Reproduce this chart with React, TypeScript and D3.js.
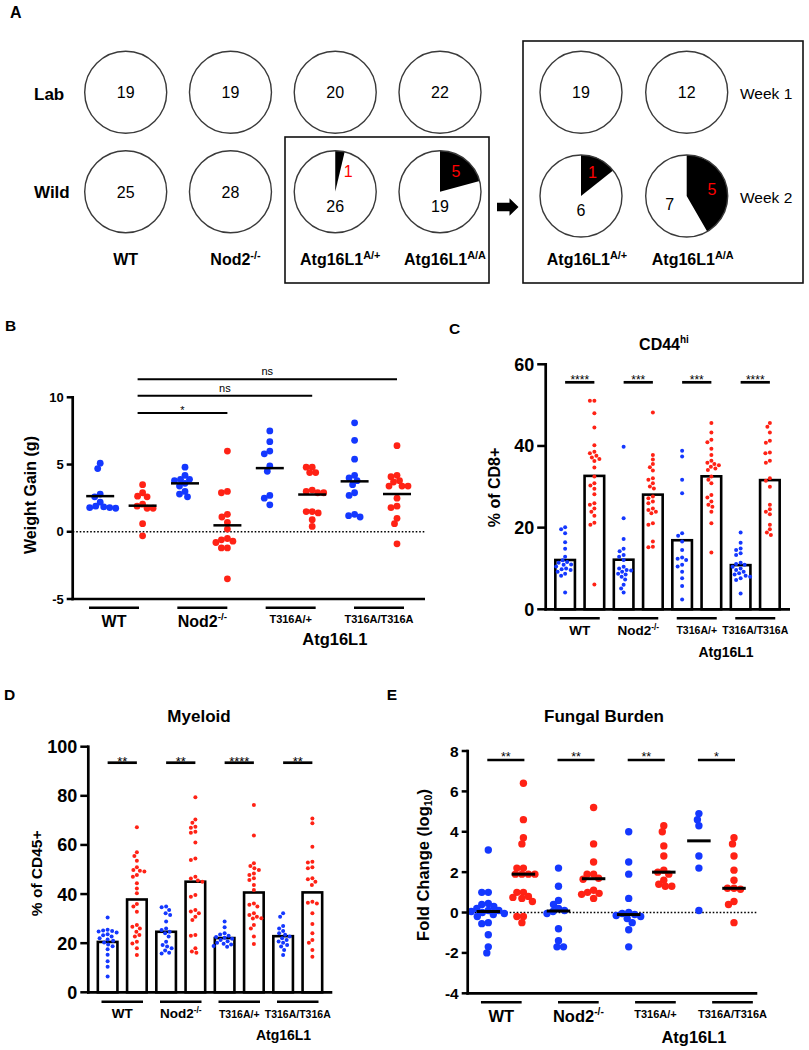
import * as d3 from 'd3';

const FONT = '"Liberation Sans", Arial, Helvetica, sans-serif';
const BLUE = '#1438ff';
const RED = '#ff2215';

// Panel A: mice without (negative) and with (positive) the phenotype
const pieLabels: [string, string][] = [['WT', ''], ['Nod2', '-/-'], ['Atg16L1', 'A/+'], ['Atg16L1', 'A/A']];
const labNegative = [19, 19, 20, 22];
const labPositive = [0, 0, 0, 0];
const wildNegative = [25, 28, 26, 19];
const wildPositive = [0, 0, 1, 5];
const weekLabels: [string, string][] = [['Atg16L1', 'A/+'], ['Atg16L1', 'A/A']];
const week1Negative = [19, 12];
const week1Positive = [0, 0];
const week2Negative = [6, 7];
const week2Positive = [1, 5];

// Panels B-E: four genotypes, lab (blue) vs wild (red)
const genotypes = ['WT', 'Nod2', 'T316A/+', 'T316A/T316A'];

const weightLab = [
  [5.1, 4.7, 2.8, 2.6, 2.2, 1.9, 1.85, 1.8, 1.8, 1.75],
  [4.8, 4.2, 3.9, 3.9, 3.8, 3.4, 3.6, 3.0, 2.8, 2.6],
  [7.5, 6.7, 6.0, 5.8, 4.9, 4.5, 2.7, 2.5, 2.0],
  [8.1, 6.8, 5.4, 4.0, 4.2, 3.8, 3.5, 2.9, 2.7, 1.1, 1.3, 1.2],
];
const weightWild = [
  [3.5, 2.6, 2.65, 2.9, 1.75, 1.75, 1.9, 2.05, 0.6, -0.3],
  [6.0, 2.9, 3.0, 1.3, 1.1, 0.7, 0.2, -0.7, -0.5, -0.6, -0.8, -1.2, -1.2, -3.5],
  [4.8, 4.8, 4.4, 4.4, 3.1, 2.9, 2.9, 3.0, 1.5, 1.4, 1.5, 0.9, 0.4],
  [6.4, 4.2, 4.1, 3.4, 3.7, 3.8, 3.4, 3.4, 2.5, 1.9, 1.8, 1.0, 0.6, -0.9],
];
const weightTicks = [-5, 0, 5, 10];
const weightSig = ['*', 'ns', 'ns'];

const cd44Lab = [
  [20.1, 19.6, 18.6, 16.4, 14.8, 12.9, 12.0, 11.6, 11.4, 11.0, 10.9, 10.5, 10.0, 9.8, 9.6, 9.2, 8.7, 8.2, 4.1],
  [39.8, 22.3, 17.2, 14.8, 14.2, 13.3, 12.9, 12.1, 10.4, 10.0, 9.6, 9.5, 9.2, 8.7, 8.5, 8.0, 7.3, 6.0, 5.1, 4.1],
  [38.8, 37.4, 31.7, 28.4, 18.6, 18.0, 16.6, 14.5, 12.7, 12.4, 12.1, 10.9, 10.5, 9.2, 7.6, 5.7, 2.4],
  [18.8, 16.3, 14.9, 14.5, 13.7, 13.3, 11.4, 11.1, 10.9, 10.4, 10.0, 9.6, 9.2, 8.8, 8.5, 8.2, 8.0, 7.6, 7.2, 3.9],
];
const cd44Wild = [
  [51.1, 51.1, 48.0, 44.5, 40.2, 38.6, 38.2, 37.6, 37.2, 36.8, 36.3, 34.7, 32.5, 30.9, 30.3, 29.5, 28.2, 26.0, 25.6, 24.7, 23.9, 22.9, 21.2, 20.7, 6.1],
  [48.2, 37.8, 36.7, 35.6, 34.0, 34.8, 32.1, 31.7, 30.9, 30.1, 29.6, 27.6, 27.2, 26.4, 26.0, 24.7, 24.3, 23.9, 23.5, 21.1, 20.7, 16.6, 15.3, 15.2],
  [45.6, 43.3, 41.5, 40.9, 39.3, 37.8, 36.4, 35.9, 35.6, 35.3, 34.9, 34.5, 34.1, 32.5, 31.7, 30.9, 28.0, 27.4, 26.4, 25.6, 25.1, 23.9, 21.1, 13.9],
  [45.6, 44.7, 43.3, 41.3, 40.8, 38.4, 38.2, 36.4, 35.9, 32.1, 31.5, 30.0, 25.6, 24.5, 23.9, 23.3, 20.7, 19.6, 18.8, 18.2],
];
const cd44Ticks = [0, 20, 40, 60];
const cd44Sig = ['****', '***', '***', '****'];

const myeloidLab = [
  [30.5, 25.5, 25.2, 25.0, 24.8, 24.3, 23.6, 23.2, 22.7, 22.0, 21.5, 21.0, 20.3, 19.5, 18.8, 17.5, 15.3, 12.6, 10.4, 6.4],
  [34.9, 34.6, 33.5, 32.2, 31.5, 28.8, 26.0, 25.4, 24.7, 24.0, 22.7, 20.6, 19.3, 18.6, 17.9, 17.0, 16.1, 15.8],
  [28.8, 26.5, 24.0, 23.5, 23.0, 22.5, 22.2, 21.8, 21.3, 20.8, 20.2, 19.8, 19.5, 18.9, 18.5],
  [32.2, 30.8, 27.0, 26.0, 25.0, 24.0, 23.4, 22.7, 22.0, 21.3, 20.7, 20.2, 19.3, 18.6, 17.2, 15.2],
];
const myeloidWild = [
  [67.2, 57.0, 55.5, 53.6, 50.9, 49.8, 49.5, 49.2, 47.8, 47.0, 44.4, 42.3, 40.3, 36.0, 34.9, 32.8, 27.4, 26.7, 26.0, 24.7, 23.3, 22.7, 20.6, 19.9, 17.9, 15.2],
  [79.4, 70.4, 69.0, 67.4, 67.0, 65.4, 65.0, 61.0, 54.5, 53.9, 47.0, 46.3, 45.5, 45.0, 39.6, 38.9, 33.5, 32.9, 32.2, 30.8, 29.4, 23.3, 23.0, 17.9, 16.6, 16.1],
  [76.3, 63.8, 52.5, 51.4, 50.5, 49.8, 48.4, 47.8, 46.4, 45.7, 43.7, 41.7, 36.2, 35.6, 34.9, 32.2, 31.5, 30.8, 30.2, 30.0, 27.4, 26.0, 22.7, 19.7],
  [70.8, 68.8, 59.3, 53.2, 52.8, 50.9, 50.5, 46.4, 46.0, 45.0, 43.7, 36.9, 36.5, 36.2, 32.2, 27.8, 24.0, 21.3, 20.2, 17.2, 14.5],
];
const myeloidTicks = [0, 20, 40, 60, 80, 100];
const myeloidSig = ['**', '**', '****', '**'];

const fungalLab = [
  [3.1, 1.0, 1.0, 0.45, 0.4, 0.3, 0.2, 0.1, 0.1, 0.05, 0.0, -0.05, -0.1, -0.2, -0.5, -0.55, -1.1, -1.7, -2.0],
  [2.2, 1.3, 0.6, 0.4, 0.2, 0.1, 0.05, -0.05, -0.8, -1.4, -1.7, -1.7],
  [4.0, 2.5, 1.9, 0.7, 0.0, -0.05, -0.1, -0.15, -0.2, -0.3, -0.5, -0.85, -1.7],
  [4.9, 4.6, 4.3, 2.8, 2.2, 0.1],
];
const fungalWild = [
  [6.4, 4.6, 3.7, 3.4, 2.2, 2.2, 1.9, 1.9, 1.9, 1.9, 1.0, 1.0, 0.8, 0.75, 0.7, 0.55, -0.2, -0.2, -0.5],
  [5.2, 3.4, 2.5, 1.9, 1.9, 1.7, 1.65, 1.1, 1.0, 0.95, 0.9, 0.7],
  [4.3, 4.0, 3.3, 2.8, 2.1, 2.0, 1.9, 1.6, 1.4, 1.3, 1.3],
  [3.7, 3.4, 2.8, 2.1, 1.6, 1.2, 1.2, 1.15, 0.55, 0.4, -0.5],
];
const fungalTicks = [-4, -2, 0, 2, 4, 6, 8];
const fungalSig = ['**', '**', '**', '*'];

// simple beeswarm: offset each dot sideways until it clears the ones already placed
function swarm(values: number[], y: (v: number) => number, dist: number) {
  const order = d3.range(values.length).sort((a, b) => values[b] - values[a]);
  const placed: { x: number; y: number }[] = [];
  const out: number[] = new Array(values.length).fill(0);
  for (const i of order) {
    const py = y(values[i]);
    let best = 0;
    for (let k = 0; k < 600; k++) {
      const dx = (k % 2 === 0 ? 1 : -1) * Math.ceil(k / 2) * 0.5;
      if (placed.every(p => (p.x - dx) ** 2 + (p.y - py) ** 2 >= dist * dist)) {
        best = dx;
        break;
      }
    }
    placed.push({ x: best, y: py });
    out[i] = best;
  }
  return out;
}

function Pie({ cx, cy, neg, pos }: { cx: number; cy: number; neg: number; pos: number }) {
  const r = 41;
  const arcs = d3.pie<number>().sort(null)([pos, neg]);
  const arc = d3.arc<d3.PieArcDatum<number>>().innerRadius(0).outerRadius(r);
  const at = (a: number, d: number) => [cx + d * Math.sin(a), cy - d * Math.cos(a)];
  let negPos = [cx, cy];
  let posPos: number[] | null = null;
  if (pos > 0) {
    const span = arcs[0].endAngle - arcs[0].startAngle;
    const mid = (arcs[0].startAngle + arcs[0].endAngle) / 2;
    // thin slices get their number beside them instead of inside
    posPos = span < 0.5 ? at(0.55, r * 0.6) : at(mid, r * 0.64);
    const wm = (arcs[1].startAngle + arcs[1].endAngle) / 2;
    const wa = wm > 4.2 ? wm - 0.2 : Math.PI;
    negPos = at(wa, wa === Math.PI ? 14 : 19);
  }
  return (
    <g>
      <circle cx={cx} cy={cy} r={r} fill="#fff" />
      {pos > 0 && <path d={arc(arcs[0]) || ''} transform={`translate(${cx},${cy})`} fill="#000" />}
      <circle cx={cx} cy={cy} r={r} fill="none" stroke="#3a3a3a" strokeWidth={1.4} />
      <text x={negPos[0]} y={negPos[1] + 5.8} textAnchor="middle" fontSize={16}>{neg}</text>
      {posPos && (
        <text x={posPos[0]} y={posPos[1] + 5.8} textAnchor="middle" fontSize={16} fill="#ff0000">{pos}</text>
      )}
    </g>
  );
}

function SupLabel({ x, y, label, size }: { x: number; y: number; label: [string, string]; size: number }) {
  return (
    <text x={x} y={y} textAnchor="middle" fontSize={size} fontWeight="bold">
      {label[0]}
      {label[1] && <tspan fontSize={size * 0.68} dy={-size * 0.36}>{label[1]}</tspan>}
    </text>
  );
}

function PanelA() {
  const col = d3.scalePoint<number>().domain(d3.range(4)).range([125.7, 440]);
  const row = d3.scalePoint<number>().domain([0, 1]).range([92.3, 191.7]);
  const colR = d3.scalePoint<number>().domain([0, 1]).range([581, 686.7]);
  const rowR = d3.scalePoint<number>().domain([0, 1]).range([92.3, 196]);
  return (
    <g fontFamily={FONT}>
      <text x={10} y={18.3} fontSize={16} fontWeight="bold">A</text>
      <text x={34} y={100} fontSize={17} fontWeight="bold">Lab</text>
      <text x={34} y={197.5} fontSize={17} fontWeight="bold">Wild</text>
      <rect x={285} y={137} width={204} height={146} fill="none" stroke="#111" strokeWidth={1.6} />
      <rect x={523} y={41} width={280} height={242} fill="none" stroke="#111" strokeWidth={1.6} />
      <path d="M497,202.8 H509.5 V198.3 L518.5,207 L509.5,215.7 V211.2 H497 Z" fill="#000" />
      {labNegative.map((n, i) => (
        <Pie key={'l' + i} cx={col(i)!} cy={row(0)!} neg={n} pos={labPositive[i]} />
      ))}
      {wildNegative.map((n, i) => (
        <Pie key={'w' + i} cx={col(i)!} cy={row(1)!} neg={n} pos={wildPositive[i]} />
      ))}
      {week1Negative.map((n, i) => (
        <Pie key={'a' + i} cx={colR(i)!} cy={rowR(0)!} neg={n} pos={week1Positive[i]} />
      ))}
      {week2Negative.map((n, i) => (
        <Pie key={'b' + i} cx={colR(i)!} cy={rowR(1)!} neg={n} pos={week2Positive[i]} />
      ))}
      {pieLabels.map((l, i) => (
        <SupLabel key={'pl' + i} x={col(i)! + (l[1] ? 5 : 0)} y={265} label={l} size={16} />
      ))}
      {weekLabels.map((l, i) => (
        <SupLabel key={'wl' + i} x={colR(i)! + 6} y={265} label={l} size={16} />
      ))}
      <text x={740} y={99.3} fontSize={15.5}>Week 1</text>
      <text x={740} y={203.3} fontSize={15.5}>Week 2</text>
    </g>
  );
}

interface Sig { from: number; to: number; y: number; text: string }

interface DotPanelProps {
  lab: number[][];
  wild: number[][];
  axisX: number;
  axisEnd: number;
  yDomain: [number, number];
  yRange: [number, number];
  ticks: number[];
  tickFont: number;
  tickLen: number;
  xRange: [number, number];
  pad: number;
  bars?: boolean;
  summary?: 'mean' | 'median';
  dotR: number;
  dotDist: number;
  sumW?: number;
  sumThick?: number;
  zeroLine?: boolean;
  sig: (cx: (i: number) => number) => Sig[];
  sigFont: number;
  starRise: number;
  sigThick: number;
}

function DotPanel(p: DotPanelProps) {
  const y = d3.scaleLinear().domain(p.yDomain).range(p.yRange);
  const x = d3.scaleBand<number>().domain(d3.range(8)).range(p.xRange)
    .paddingInner(p.pad).paddingOuter(p.pad / 2);
  const cx = (i: number) => x(i)! + x.bandwidth() / 2;
  const series = genotypes.flatMap((_, g) => [
    { slot: g * 2, color: BLUE, values: p.lab[g] },
    { slot: g * 2 + 1, color: RED, values: p.wild[g] },
  ]);
  const yBottom = p.yRange[0];
  const yTop = p.yRange[1];
  return (
    <g fontFamily={FONT}>
      {p.zeroLine && (
        <line x1={p.axisX} x2={p.axisEnd} y1={y(0)} y2={y(0)} stroke="#000" strokeWidth={1.6} strokeDasharray="1.6,1.9" />
      )}
      {p.bars && series.map(s => {
        const m = d3.mean(s.values) ?? 0;
        return (
          <rect key={'bar' + s.slot} x={x(s.slot)} y={y(m)} width={x.bandwidth()} height={y(0) - y(m)}
            fill="#fff" stroke="#000" strokeWidth={2.6} />
        );
      })}
      {series.map(s => {
        const off = swarm(s.values, y, p.dotDist);
        return (
          <g key={'dots' + s.slot} fill={s.color}>
            {s.values.map((v, i) => (
              <circle key={i} cx={cx(s.slot) + off[i]} cy={y(v)} r={p.dotR} />
            ))}
          </g>
        );
      })}
      {p.summary && series.map(s => {
        const m = (p.summary === 'mean' ? d3.mean(s.values) : d3.median(s.values)) ?? 0;
        return (
          <line key={'sum' + s.slot} x1={cx(s.slot) - p.sumW! / 2} x2={cx(s.slot) + p.sumW! / 2}
            y1={y(m)} y2={y(m)} stroke="#000" strokeWidth={p.sumThick} />
        );
      })}
      <line x1={p.axisX} x2={p.axisX} y1={yTop - 1.3} y2={yBottom + 1.3} stroke="#000" strokeWidth={2.7} />
      <line x1={p.axisX - 1.3} x2={p.axisEnd} y1={yBottom} y2={yBottom} stroke="#000" strokeWidth={2.7} />
      {p.ticks.map(t => (
        <g key={'t' + t}>
          <line x1={p.axisX - p.tickLen} x2={p.axisX} y1={y(t)} y2={y(t)} stroke="#000" strokeWidth={2.5} />
          <text x={p.axisX - p.tickLen - 3} y={y(t) + p.tickFont * 0.36} textAnchor="end"
            fontSize={p.tickFont} fontWeight="bold">{t}</text>
        </g>
      ))}
      {p.sig(cx).map((s, i) => (
        <g key={'sig' + i}>
          <line x1={s.from} x2={s.to} y1={s.y} y2={s.y} stroke="#000" strokeWidth={p.sigThick} />
          <text x={(s.from + s.to) / 2} textAnchor="middle" fontSize={p.sigFont}
            y={s.text.includes('*') ? s.y - p.starRise + p.sigFont * 0.585 : s.y - 4}>{s.text}</text>
        </g>
      ))}
    </g>
  );
}

interface GenoAxisProps {
  centers: number[];
  lineY: number;
  lineW: number;
  bigFont: number;
  smallFont: number;
  bigBase: number;
  smallBase: number;
  atgFont: number;
  atgBase: number;
  atgShift?: number;
}

function GenotypeAxis(p: GenoAxisProps) {
  return (
    <g fontFamily={FONT} fontWeight="bold" textAnchor="middle">
      {genotypes.map((g, i) => {
        const small = g.startsWith('T316A');
        return (
          <g key={g}>
            <line x1={p.centers[i] - p.lineW / 2} x2={p.centers[i] + p.lineW / 2} y1={p.lineY} y2={p.lineY}
              stroke="#000" strokeWidth={2.5} />
            <text x={p.centers[i]} y={small ? p.smallBase : p.bigBase} fontSize={small ? p.smallFont : p.bigFont}>
              {g}
              {g === 'Nod2' && <tspan fontSize={p.bigFont * 0.62} dy={-p.bigFont * 0.4}>-/-</tspan>}
            </text>
          </g>
        );
      })}
      <text x={(p.centers[2] + p.centers[3]) / 2 + (p.atgShift ?? 0)} y={p.atgBase} fontSize={p.atgFont}>Atg16L1</text>
    </g>
  );
}

function pairCenters(range: [number, number], pad: number) {
  const x = d3.scaleBand<number>().domain(d3.range(8)).range(range).paddingInner(pad).paddingOuter(pad / 2);
  return genotypes.map((_, g) => (x(g * 2)! + x(g * 2 + 1)! + x.bandwidth()) / 2);
}

export default function App() {
  const bLabels = d3.scalePoint<string>().domain(genotypes).range([114, 379]);
  const eLabels = d3.scalePoint<string>().domain(genotypes).range([501.3, 732.5]);
  return (
    <svg width={809} height={1050} viewBox="0 0 809 1050"
      style={{ position: 'absolute', left: 0, top: 0, background: '#fff' }}>
      <rect width={809} height={1050} fill="#fff" />
      <PanelA />

      {/* B */}
      <g fontFamily={FONT}>
        <text x={5} y={330.7} fontSize={15.5} fontWeight="bold">B</text>
        <text transform="translate(36,495) rotate(-90)" textAnchor="middle" fontSize={16} fontWeight="bold">Weight Gain (g)</text>
      </g>
      <DotPanel lab={weightLab} wild={weightWild} axisX={72.7} axisEnd={425}
        yDomain={[-5, 10]} yRange={[599, 397.3]} ticks={weightTicks} tickFont={13} tickLen={6}
        xRange={[79, 418.2]} pad={0} summary="mean" dotR={3.4} dotDist={5.8} sumW={28} sumThick={2.5}
        zeroLine sigFont={11} starRise={5.7} sigThick={2}
        sig={cx => [
          { from: cx(1) - 5, to: cx(3), y: 413, text: weightSig[0] },
          { from: cx(1) - 5, to: cx(5), y: 395.7, text: weightSig[1] },
          { from: cx(1) - 5, to: cx(7), y: 379.3, text: weightSig[2] },
        ]} />
      <GenotypeAxis centers={genotypes.map(g => bLabels(g)!)} lineY={607.7} lineW={50}
        bigFont={16} smallFont={11} bigBase={626.7} smallBase={623} atgFont={16.5} atgBase={645} />

      {/* C */}
      <g fontFamily={FONT} fontWeight="bold">
        <text x={449} y={334} fontSize={15.5}>C</text>
        <text x={664} y={350} textAnchor="middle" fontSize={16}>
          CD44<tspan fontSize={10} dy={-7}>hi</tspan>
        </text>
        <text transform="translate(499.5,487.5) rotate(-90)" textAnchor="middle" fontSize={16}>% of CD8+</text>
      </g>
      <DotPanel lab={cd44Lab} wild={cd44Wild} axisX={545.7} axisEnd={790}
        yDomain={[0, 60]} yRange={[609.3, 364.3]} ticks={cd44Ticks} tickFont={18} tickLen={8.5}
        xRange={[550.5, 784.5]} pad={0.33} bars dotR={2} dotDist={4.4}
        sigFont={12} starRise={5} sigThick={2.7}
        sig={cx => genotypes.map((_, g) => ({ from: cx(g * 2), to: cx(g * 2 + 1), y: 382.3, text: cd44Sig[g] }))} />
      <GenotypeAxis centers={pairCenters([550.5, 784.5], 0.33)} lineY={618.3} lineW={40}
        bigFont={13.5} smallFont={10.5} bigBase={635} smallBase={634.3} atgFont={14} atgBase={657.3} />

      {/* D */}
      <g fontFamily={FONT} fontWeight="bold">
        <text x={4} y={700} fontSize={15.5}>D</text>
        <text x={199} y={721.7} textAnchor="middle" fontSize={17}>Myeloid</text>
        <text transform="translate(41.5,873.3) rotate(-90)" textAnchor="middle" fontSize={15.5}>% of CD45+</text>
      </g>
      <DotPanel lab={myeloidLab} wild={myeloidWild} axisX={88.3} axisEnd={332.3}
        yDomain={[0, 100]} yRange={[992.3, 746.7]} ticks={myeloidTicks} tickFont={18} tickLen={8}
        xRange={[93, 327]} pad={0.33} bars dotR={2} dotDist={4.4}
        sigFont={13} starRise={4.4} sigThick={2.7}
        sig={cx => genotypes.map((_, g) => ({ from: cx(g * 2), to: cx(g * 2 + 1), y: 762.7, text: myeloidSig[g] }))} />
      <GenotypeAxis centers={pairCenters([93, 327], 0.33)} lineY={1001.7} lineW={41.5}
        bigFont={13.5} smallFont={10.5} bigBase={1018} smallBase={1017.7} atgFont={14} atgBase={1040} atgShift={15} />

      {/* E */}
      <g fontFamily={FONT} fontWeight="bold">
        <text x={386.7} y={700} fontSize={15.5}>E</text>
        <text x={604} y={721.7} textAnchor="middle" fontSize={17}>Fungal Burden</text>
        <text transform="translate(428.5,865) rotate(-90)" textAnchor="middle" fontSize={16.5}>
          Fold Change (log<tspan fontSize={10.5} dy={3}>10</tspan><tspan dy={-3}>)</tspan>
        </text>
      </g>
      <DotPanel lab={fungalLab} wild={fungalWild} axisX={467.7} axisEnd={757.3}
        yDomain={[-4, 8]} yRange={[993.3, 751]} ticks={fungalTicks} tickFont={15.5} tickLen={6}
        xRange={[470.75, 751.55]} pad={0} summary="median" dotR={3.7} dotDist={6.2} sumW={23.5} sumThick={3}
        zeroLine sigFont={12.5} starRise={6} sigThick={2.5}
        sig={cx => genotypes.map((_, g) => ({ from: cx(g * 2) - 1, to: cx(g * 2 + 1) + 1, y: 760, text: fungalSig[g] }))} />
      <GenotypeAxis centers={genotypes.map(g => eLabels(g)!)} lineY={1002.3} lineW={40.7}
        bigFont={16.5} smallFont={11} bigBase={1021.7} smallBase={1018.3} atgFont={16.5} atgBase={1042.7} />
    </svg>
  );
}
